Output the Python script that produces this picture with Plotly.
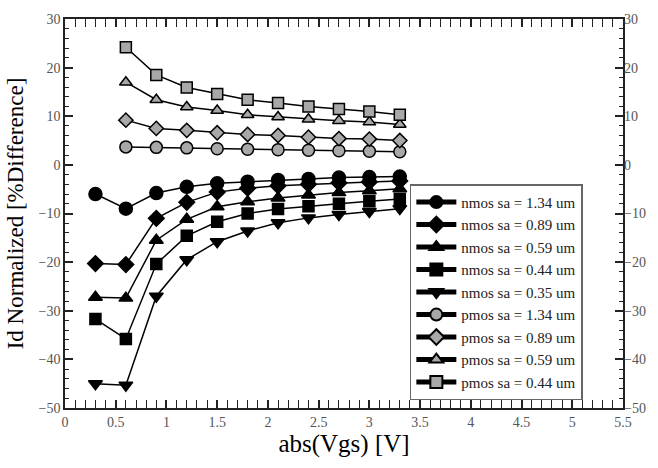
import plotly.graph_objects as go

x_n = [0.3, 0.6, 0.9, 1.2, 1.5, 1.8, 2.1, 2.4, 2.7, 3.0, 3.3]
x_p = [0.6, 0.9, 1.2, 1.5, 1.8, 2.1, 2.4, 2.7, 3.0, 3.3]

nmos_134 = [-6.0, -9.0, -5.8, -4.5, -3.8, -3.45, -3.1, -2.9, -2.6, -2.5, -2.4]
nmos_089 = [-20.3, -20.5, -11.0, -7.7, -5.6, -4.8, -4.3, -4.0, -3.7, -3.5, -3.3]
nmos_059 = [-27.2, -27.4, -15.5, -11.2, -8.6, -7.6, -6.8, -6.2, -5.7, -5.3, -4.9]
nmos_044 = [-31.7, -35.8, -20.4, -14.6, -11.7, -10.0, -9.1, -8.5, -8.0, -7.5, -7.0]
nmos_035 = [-45.0, -45.3, -27.0, -19.5, -15.8, -13.6, -11.9, -10.9, -10.2, -9.6, -9.0]

pmos_134 = [3.7, 3.6, 3.5, 3.3, 3.2, 3.1, 3.0, 2.9, 2.8, 2.7]
pmos_089 = [9.2, 7.5, 7.1, 6.6, 6.25, 6.05, 5.7, 5.4, 5.3, 5.0]
pmos_059 = [17.0, 13.4, 11.9, 11.2, 10.3, 9.85, 9.4, 9.1, 8.8, 8.3]
pmos_044 = [24.2, 18.5, 15.9, 14.6, 13.4, 12.7, 12.0, 11.5, 11.0, 10.3]

series = [
    ("nmos sa = 1.34 um", x_n, nmos_134, "circle", "black", 13),
    ("nmos sa = 0.89 um", x_n, nmos_089, "diamond", "black", 12),
    ("nmos sa = 0.59 um", x_n, nmos_059, "triangle-up", "black", 12),
    ("nmos sa = 0.44 um", x_n, nmos_044, "square", "black", 11),
    ("nmos sa = 0.35 um", x_n, nmos_035, "triangle-down", "black", 12),
    ("pmos sa = 1.34 um", x_p, pmos_134, "circle", "#a8a8a8", 12),
    ("pmos sa = 0.89 um", x_p, pmos_089, "diamond", "#a8a8a8", 11),
    ("pmos sa = 0.59 um", x_p, pmos_059, "triangle-up", "#a8a8a8", 11),
    ("pmos sa = 0.44 um", x_p, pmos_044, "square", "#a8a8a8", 11),
]

SERIF = "Liberation Serif"

fig = go.Figure()
for name, xs, ys, sym, fill, sz in series:
    fig.add_trace(go.Scatter(
        x=xs, y=ys, name=name, mode="lines+markers",
        line=dict(color="black", width=1.5),
        marker=dict(symbol=sym, size=sz, color=fill,
                    line=dict(color="black", width=1.5)),
    ))

# invisible trace for right axis
fig.add_trace(go.Scatter(x=[0], y=[0], yaxis="y2", showlegend=False,
                         mode="markers", marker=dict(opacity=0),
                         hoverinfo="skip"))

axis_common = dict(
    showgrid=False, zeroline=False, showline=True, linecolor="#222",
    linewidth=1.5, ticks="inside", ticklen=8, tickwidth=1.5,
    tickcolor="#222",
    tickfont=dict(family=SERIF, size=14, color="#555"),
)

fig.update_layout(
    width=658, height=468,
    margin=dict(l=65, r=27, t=15, b=60),
    paper_bgcolor="white", plot_bgcolor="white",
    font=dict(family=SERIF, color="black"),
    xaxis=dict(
        range=[0, 5.5], dtick=0.5, mirror="allticks",
        minor=dict(dtick=0.1, ticks="inside", ticklen=4, tickwidth=1.2,
                   tickcolor="#222"),
        title=dict(text="abs(Vgs) [V]", font=dict(family=SERIF, size=25),
                   standoff=4),
        **axis_common,
    ),
    yaxis=dict(
        range=[-50, 30], dtick=10, mirror="allticks",
        minor=dict(dtick=2, ticks="inside", ticklen=4, tickwidth=1.2,
                   tickcolor="#222"),
        title=dict(text="Id Normalized [%Difference]",
                   font=dict(family=SERIF, size=23), standoff=8),
        **axis_common,
    ),
    yaxis2=dict(
        range=[-50, 30], dtick=10, overlaying="y", side="right",
        showgrid=False, zeroline=False, showline=False, ticks="",
        tickfont=dict(family=SERIF, size=14, color="#555"),
    ),
    legend=dict(
        x=0.618, y=0.575, xanchor="left", yanchor="top",
        bgcolor="white", bordercolor="#666", borderwidth=1.5,
        font=dict(family=SERIF, size=15, color="#222"),
        tracegroupgap=0, itemsizing="constant", itemwidth=40,
    ),
    showlegend=True,
)

fig.write_html("out.html")
